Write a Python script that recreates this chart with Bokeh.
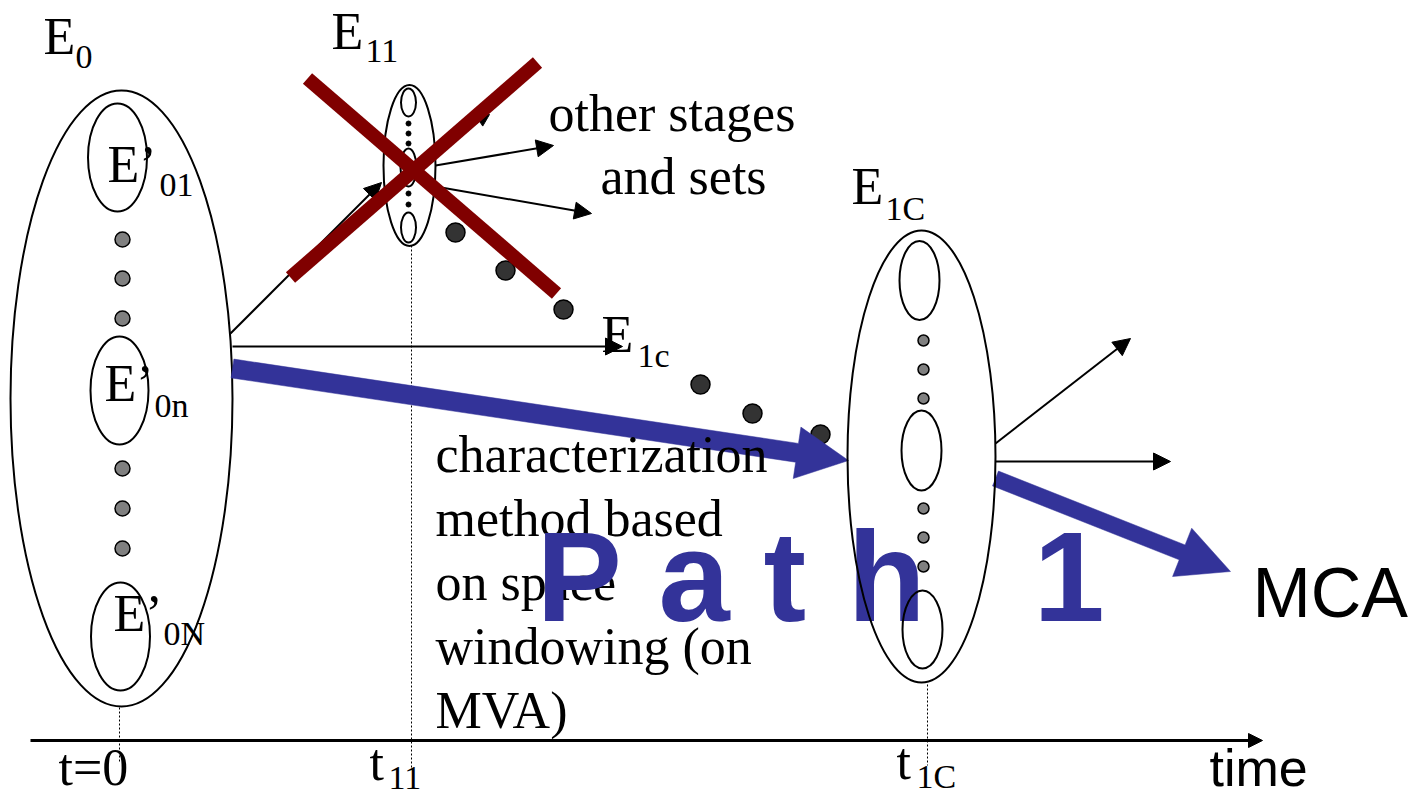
import numpy as np
from bokeh.plotting import figure
from bokeh.models import Range1d, Arrow, NormalHead, ColumnDataSource
from bokeh.core.properties import value
from bokeh.embed import file_html
from bokeh.resources import INLINE

# ---------------- data (diagram coordinates, y grows downward) ----------------
# outer set ellipses: E0, E11, E1C
set_x = [121, 409, 921]
set_y = [398, 165, 456]
set_w = [222, 52, 148]
set_h = [616, 161, 452]

# inner sub-set ellipses (first 6: E0 and E11, last 3: E1C)
sub_x = [117, 119, 120, 408, 408, 408, 919, 921, 922]
sub_y = [157, 390, 636, 102, 167, 227, 280, 450, 629]
sub_w = [59, 58, 59, 15, 16, 15, 40, 40, 40]
sub_h = [108, 108, 108, 28, 38, 30, 79, 80, 78]

# "..." dots inside sets
e0_dot_y = [239, 278, 318, 468, 508, 548]
e0_dot_x = [122] * 6
e11_dot_y = [123, 133, 143, 193, 204]
e11_dot_x = [408] * 5
e1c_dot_y = [340, 369, 398, 508, 537, 566]
e1c_dot_x = [923] * 6

# dark dots between stages
path_dot_x = [455, 505, 563, 700, 752, 820]
path_dot_y = [232, 270, 309, 384, 413, 434]

# thin black arrows
arr_x0 = [230, 232, 435, 435, 995, 995]
arr_y0 = [333, 346, 165, 186, 443, 461]
arr_x1 = [381, 622, 553, 591, 1130, 1170]
arr_y1 = [182, 346, 145, 213, 338, 461]
# arrow hidden under the cross
hid_x = [440, 489]
hid_y = [146, 114]

# thick blue path arrows
blue_x0 = [232, 995]
blue_y0 = [368, 478]
blue_x1 = [848, 1230]
blue_y1 = [460, 571]
blue_w = [19, 16]

# crossed-out stage (X)
x_x0 = [307, 537]
x_y0 = [78, 62]
x_x1 = [556, 290]
x_y1 = [293, 277]

# time axis
axis_x = [30, 1262]
axis_y = 740
tick_x = [119, 411, 927]
tick_y0 = [707, 245, 684]
tick_y1 = [762, 768, 765]

# set labels with subscripts (baselines)
lab_text = ["E", "E", "E", "E\u2019", "E\u2019", "E\u2019", "E"]
lab_x = [43, 331, 851, 107, 104, 113, 601]
lab_y = [55, 50, 205, 183, 402, 632, 353]
labsub_text = ["0", "11", "1C", "01", "0n", "0N", "1c"]
labsub_x = [75, 365, 885, 159, 154, 163, 637]
labsub_y = [69, 63, 220, 197, 417, 645, 367]

# time tick labels
tlab_text = ["t=0", "t", "t"]
tlab_x = [58, 369, 896]
tlab_y = [786, 781, 780]
tsub_text = ["11", "1C"]
tsub_x = [388, 916]
tsub_y = [790, 788]

# free texts
other_text = ["other stages", "and sets"]
other_x = [548, 600]
other_y = [132, 195]
method_text = ["characterization", "method based", "on space", "windowing (on", "MVA)"]
method_x = [435] * 5
method_y = [473, 537, 601, 665, 729]
path_chars = ["P", "a", "t", "h", "1"]
path_x = [536, 658, 763, 847, 1033]
path_y = 622

BLUE = "#333399"
SERIF = value("Liberation Serif")
SANS = value("Liberation Sans")
BASE_K = 0.36  # renderer baseline correction (fraction of font size)

p = figure(width=1428, height=798, x_range=Range1d(0, 1428), y_range=Range1d(798, 0),
           output_backend="svg", toolbar_location=None, min_border=0,
           x_axis_type=None, y_axis_type=None)
p.grid.visible = False
p.outline_line_color = None
p.background_fill_color = "white"

# thin arrows (underlay)
src = ColumnDataSource(dict(x0=arr_x0, y0=arr_y0, x1=arr_x1, y1=arr_y1))
a = Arrow(source=src, x_start="x0", y_start="y0", x_end="x1", y_end="y1",
          line_width=2, line_color="black",
          end=NormalHead(size=17, fill_color="black", line_color="black", line_width=1))
a.level = "underlay"
p.add_layout(a)
ha = Arrow(x_start=hid_x[0], y_start=hid_y[0], x_end=hid_x[1], y_end=hid_y[1],
           line_width=2, line_color="black",
           end=NormalHead(size=12, fill_color="black", line_color="black", line_width=1))
ha.level = "underlay"
p.add_layout(ha)

# time axis
ax = Arrow(x_start=axis_x[0], y_start=axis_y, x_end=axis_x[1], y_end=axis_y,
           line_width=3, line_color="black",
           end=NormalHead(size=14, fill_color="black", line_color="black", line_width=1))
ax.level = "underlay"
p.add_layout(ax)
p.segment(tick_x, tick_y0, tick_x, tick_y1, line_color="black", line_width=1, line_dash="2 2")

# outer / inner ellipses for E0 and E11
p.ellipse(set_x[:2], set_y[:2], width=set_w[:2], height=set_h[:2],
          fill_color=None, line_color="black", line_width=2)
p.ellipse(sub_x[:6], sub_y[:6], width=sub_w[:6], height=sub_h[:6],
          fill_color=None, line_color="black", line_width=2)
p.scatter(e0_dot_x, e0_dot_y, size=15, fill_color="#808080", line_color="black", line_width=1.5)
p.scatter(e11_dot_x, e11_dot_y, size=5, fill_color="black", line_color="black")
p.scatter(e1c_dot_x, e1c_dot_y, size=11, fill_color="#808080", line_color="black", line_width=1.5)
p.scatter(path_dot_x, path_dot_y, size=19, fill_color="#333333", line_color="black", line_width=1.5)

# blue thick arrows as polygons
def arrow_poly(x0, y0, x1, y1, w, hl=52.0, hw=52.0):
    s = np.array([x0, y0], float)
    t = np.array([x1, y1], float)
    u = (t - s) / np.linalg.norm(t - s)
    n = np.array([-u[1], u[0]])
    b = t - u * hl
    pts = [s + n * w / 2, b + n * w / 2, b + n * hw / 2, t, b - n * hw / 2, b - n * w / 2, s - n * w / 2]
    return [q[0] for q in pts], [q[1] for q in pts]

bxs, bys = [], []
for i in range(len(blue_x0)):
    xs, ys = arrow_poly(blue_x0[i], blue_y0[i], blue_x1[i], blue_y1[i], blue_w[i])
    bxs.append(xs)
    bys.append(ys)
p.patches(bxs, bys, fill_color=BLUE, line_color=BLUE, line_width=0.5)

def txt(x, y, t, font, size, color="black", style="normal"):
    yy = [v - BASE_K * size for v in y]
    p.text(x=x, y=yy, text=t, text_font=font, text_font_size=f"{size}px", text_color=color,
           text_align="left", text_baseline="alphabetic", text_font_style=style)

txt(lab_x, lab_y, lab_text, SERIF, 52)
txt(labsub_x, labsub_y, labsub_text, SERIF, 34)
txt(tlab_x, tlab_y, tlab_text, SERIF, 52)
txt(tsub_x, tsub_y, tsub_text, SERIF, 34)
txt(other_x, other_y, other_text, SERIF, 52)
txt(method_x, method_y, method_text, SERIF, 52)
txt([1252], [618], ["MCA"], SANS, 70)
txt([1209], [786], ["time"], SANS, 52)
txt(path_x, [path_y] * len(path_x), path_chars, SANS, 128, color=BLUE, style="bold")

# E1C ellipses on top of the big text
p.ellipse(set_x[2:], set_y[2:], width=set_w[2:], height=set_h[2:],
          fill_color=None, line_color="black", line_width=2)
p.ellipse(sub_x[6:], sub_y[6:], width=sub_w[6:], height=sub_h[6:],
          fill_color=None, line_color="black", line_width=2)

# crossed-out stage
p.segment(x_x0, x_y0, x_x1, x_y1, line_color="#800000", line_width=14, line_cap="butt")

open("out.html", "w").write(file_html(p, INLINE))
